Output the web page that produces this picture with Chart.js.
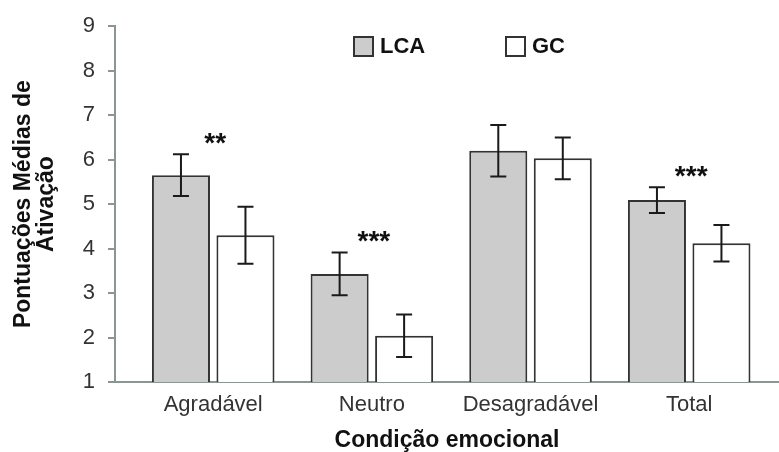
<!DOCTYPE html>
<html>
<head>
<meta charset="utf-8">
<script src="https://cdn.jsdelivr.net/npm/chart.js@4/dist/chart.umd.min.js"></script>
<style>
  html, body { margin: 0; padding: 0; background: #fff; }
  #wrap { width: 779px; height: 452px; }
</style>
</head>
<body>
<div id="wrap"><canvas id="chart"></canvas></div>
<script>
// Data
const categories = ['Agradável', 'Neutro', 'Desagradável', 'Total'];
const seriesNames = ['LCA', 'GC'];
const lcaMeans = [5.65, 3.43, 6.20, 5.09];
const lcaErr = [0.47, 0.48, 0.58, 0.29];
const gcMeans = [4.30, 2.04, 6.03, 4.12];
const gcErr = [0.64, 0.48, 0.47, 0.41];
const sigMarks = ['**', '***', '', '***'];
const yTicks = [1, 2, 3, 4, 5, 6, 7, 8, 9];

const FONT = "'Liberation Sans', Arial, sans-serif";
const axisColor = '#8c9691';

// Error bars drawn from the scales
const errorBars = {
  id: 'errorBars',
  afterDatasetsDraw(chart) {
    const ctx = chart.ctx;
    const y = chart.scales.y;
    ctx.save();
    ctx.strokeStyle = '#1a1a1a';
    ctx.lineWidth = 2;
    chart.data.datasets.forEach((ds, di) => {
      const meta = chart.getDatasetMeta(di);
      meta.data.forEach((bar, i) => {
        const v = ds.data[i].y, e = ds.errors[i];
        const top = y.getPixelForValue(v + e);
        const bot = y.getPixelForValue(v - e);
        ctx.beginPath();
        ctx.moveTo(bar.x, top); ctx.lineTo(bar.x, bot);
        ctx.moveTo(bar.x - 8, top); ctx.lineTo(bar.x + 8, top);
        ctx.moveTo(bar.x - 8, bot); ctx.lineTo(bar.x + 8, bot);
        ctx.stroke();
      });
    });
    ctx.restore();
  }
};

// Significance stars above each pair
const sigStars = {
  id: 'sigStars',
  afterDatasetsDraw(chart) {
    const ctx = chart.ctx;
    const x = chart.scales.x, y = chart.scales.y;
    ctx.save();
    ctx.font = 'bold 28px ' + FONT;
    ctx.fillStyle = '#111';
    ctx.textAlign = 'center';
    ctx.textBaseline = 'alphabetic';
    sigMarks.forEach((s, i) => {
      if (!s) return;
      const m = ctx.measureText(s);
      const cy = y.getPixelForValue(lcaMeans[i] + lcaErr[i] + 0.36);
      const base = cy + (m.actualBoundingBoxAscent - m.actualBoundingBoxDescent) / 2;
      ctx.fillText(s, x.getPixelForValue(i) + 2, base);
    });
    ctx.restore();
  }
};

// Legend inside the plot
const boxLegend = {
  id: 'boxLegend',
  afterDraw(chart) {
    const ctx = chart.ctx;
    const starts = [353, 505];
    ctx.save();
    ctx.font = 'bold 22px ' + FONT;
    ctx.textBaseline = 'middle';
    chart.data.datasets.forEach((ds, i) => {
      const bx = starts[i], by = 36;
      ctx.fillStyle = ds.backgroundColor;
      ctx.fillRect(bx, by, 21, 21);
      ctx.strokeStyle = '#333';
      ctx.lineWidth = 2;
      ctx.strokeRect(bx + 1, by + 1, 19, 19);
      ctx.fillStyle = '#111';
      ctx.fillText(ds.label, bx + 27, by + 11);
    });
    ctx.restore();
  }
};

const ctx = document.getElementById('chart').getContext('2d');
new Chart(ctx, {
  type: 'bar',
  data: {
    datasets: [
      {
        label: seriesNames[0],
        data: lcaMeans.map((v, i) => ({ x: i, y: v })),
        errors: lcaErr,
        backgroundColor: '#cccccc',
        borderColor: '#333333',
        borderWidth: 2,
        borderSkipped: false
      },
      {
        label: seriesNames[1],
        data: gcMeans.map((v, i) => ({ x: i, y: v })),
        errors: gcErr,
        backgroundColor: '#ffffff',
        borderColor: '#333333',
        borderWidth: 2,
        borderSkipped: false
      }
    ]
  },
  options: {
    responsive: true,
    maintainAspectRatio: false,
    animation: false,
    categoryPercentage: 0.813,
    barPercentage: 0.9,
    layout: { padding: { left: 0, right: 0, top: 13, bottom: 0 } },
    plugins: {
      legend: { display: false },
      tooltip: { enabled: false }
    },
    scales: {
      x: {
        type: 'linear',
        min: -0.619,
        max: 3.566,
        offset: false,
        afterBuildTicks: (s) => { s.ticks = categories.map((c, i) => ({ value: i })); },
        afterFit: (s) => { s.height = 70; },
        grid: { display: false, drawTicks: false },
        border: { color: axisColor, width: 2 },
        ticks: {
          padding: 10,
          color: '#333',
          font: { family: FONT, size: 22 },
          callback: (v) => categories[v]
        },
        title: {
          display: true,
          text: 'Condição emocional',
          color: '#111',
          font: { family: FONT, size: 23, weight: 'bold', lineHeight: 1.0 },
          padding: { top: 0, bottom: 0 }
        }
      },
      y: {
        min: 1,
        max: 9,
        afterBuildTicks: (s) => { s.ticks = yTicks.map(v => ({ value: v })); },
        afterFit: (s) => { s.width = 115; },
        grid: { drawOnChartArea: false, tickLength: 7, color: axisColor, lineWidth: 2 },
        border: { color: axisColor, width: 2 },
        ticks: {
          padding: 13,
          color: '#333',
          font: { family: FONT, size: 22 }
        },
        title: {
          display: true,
          text: ['Pontuações Médias de', 'Ativação'],
          color: '#111',
          font: { family: FONT, size: 23, weight: 'bold', lineHeight: 1.0 },
          padding: { top: 12, bottom: 0 }
        }
      }
    }
  },
  plugins: [errorBars, sigStars, boxLegend]
});
</script>
</body>
</html>
